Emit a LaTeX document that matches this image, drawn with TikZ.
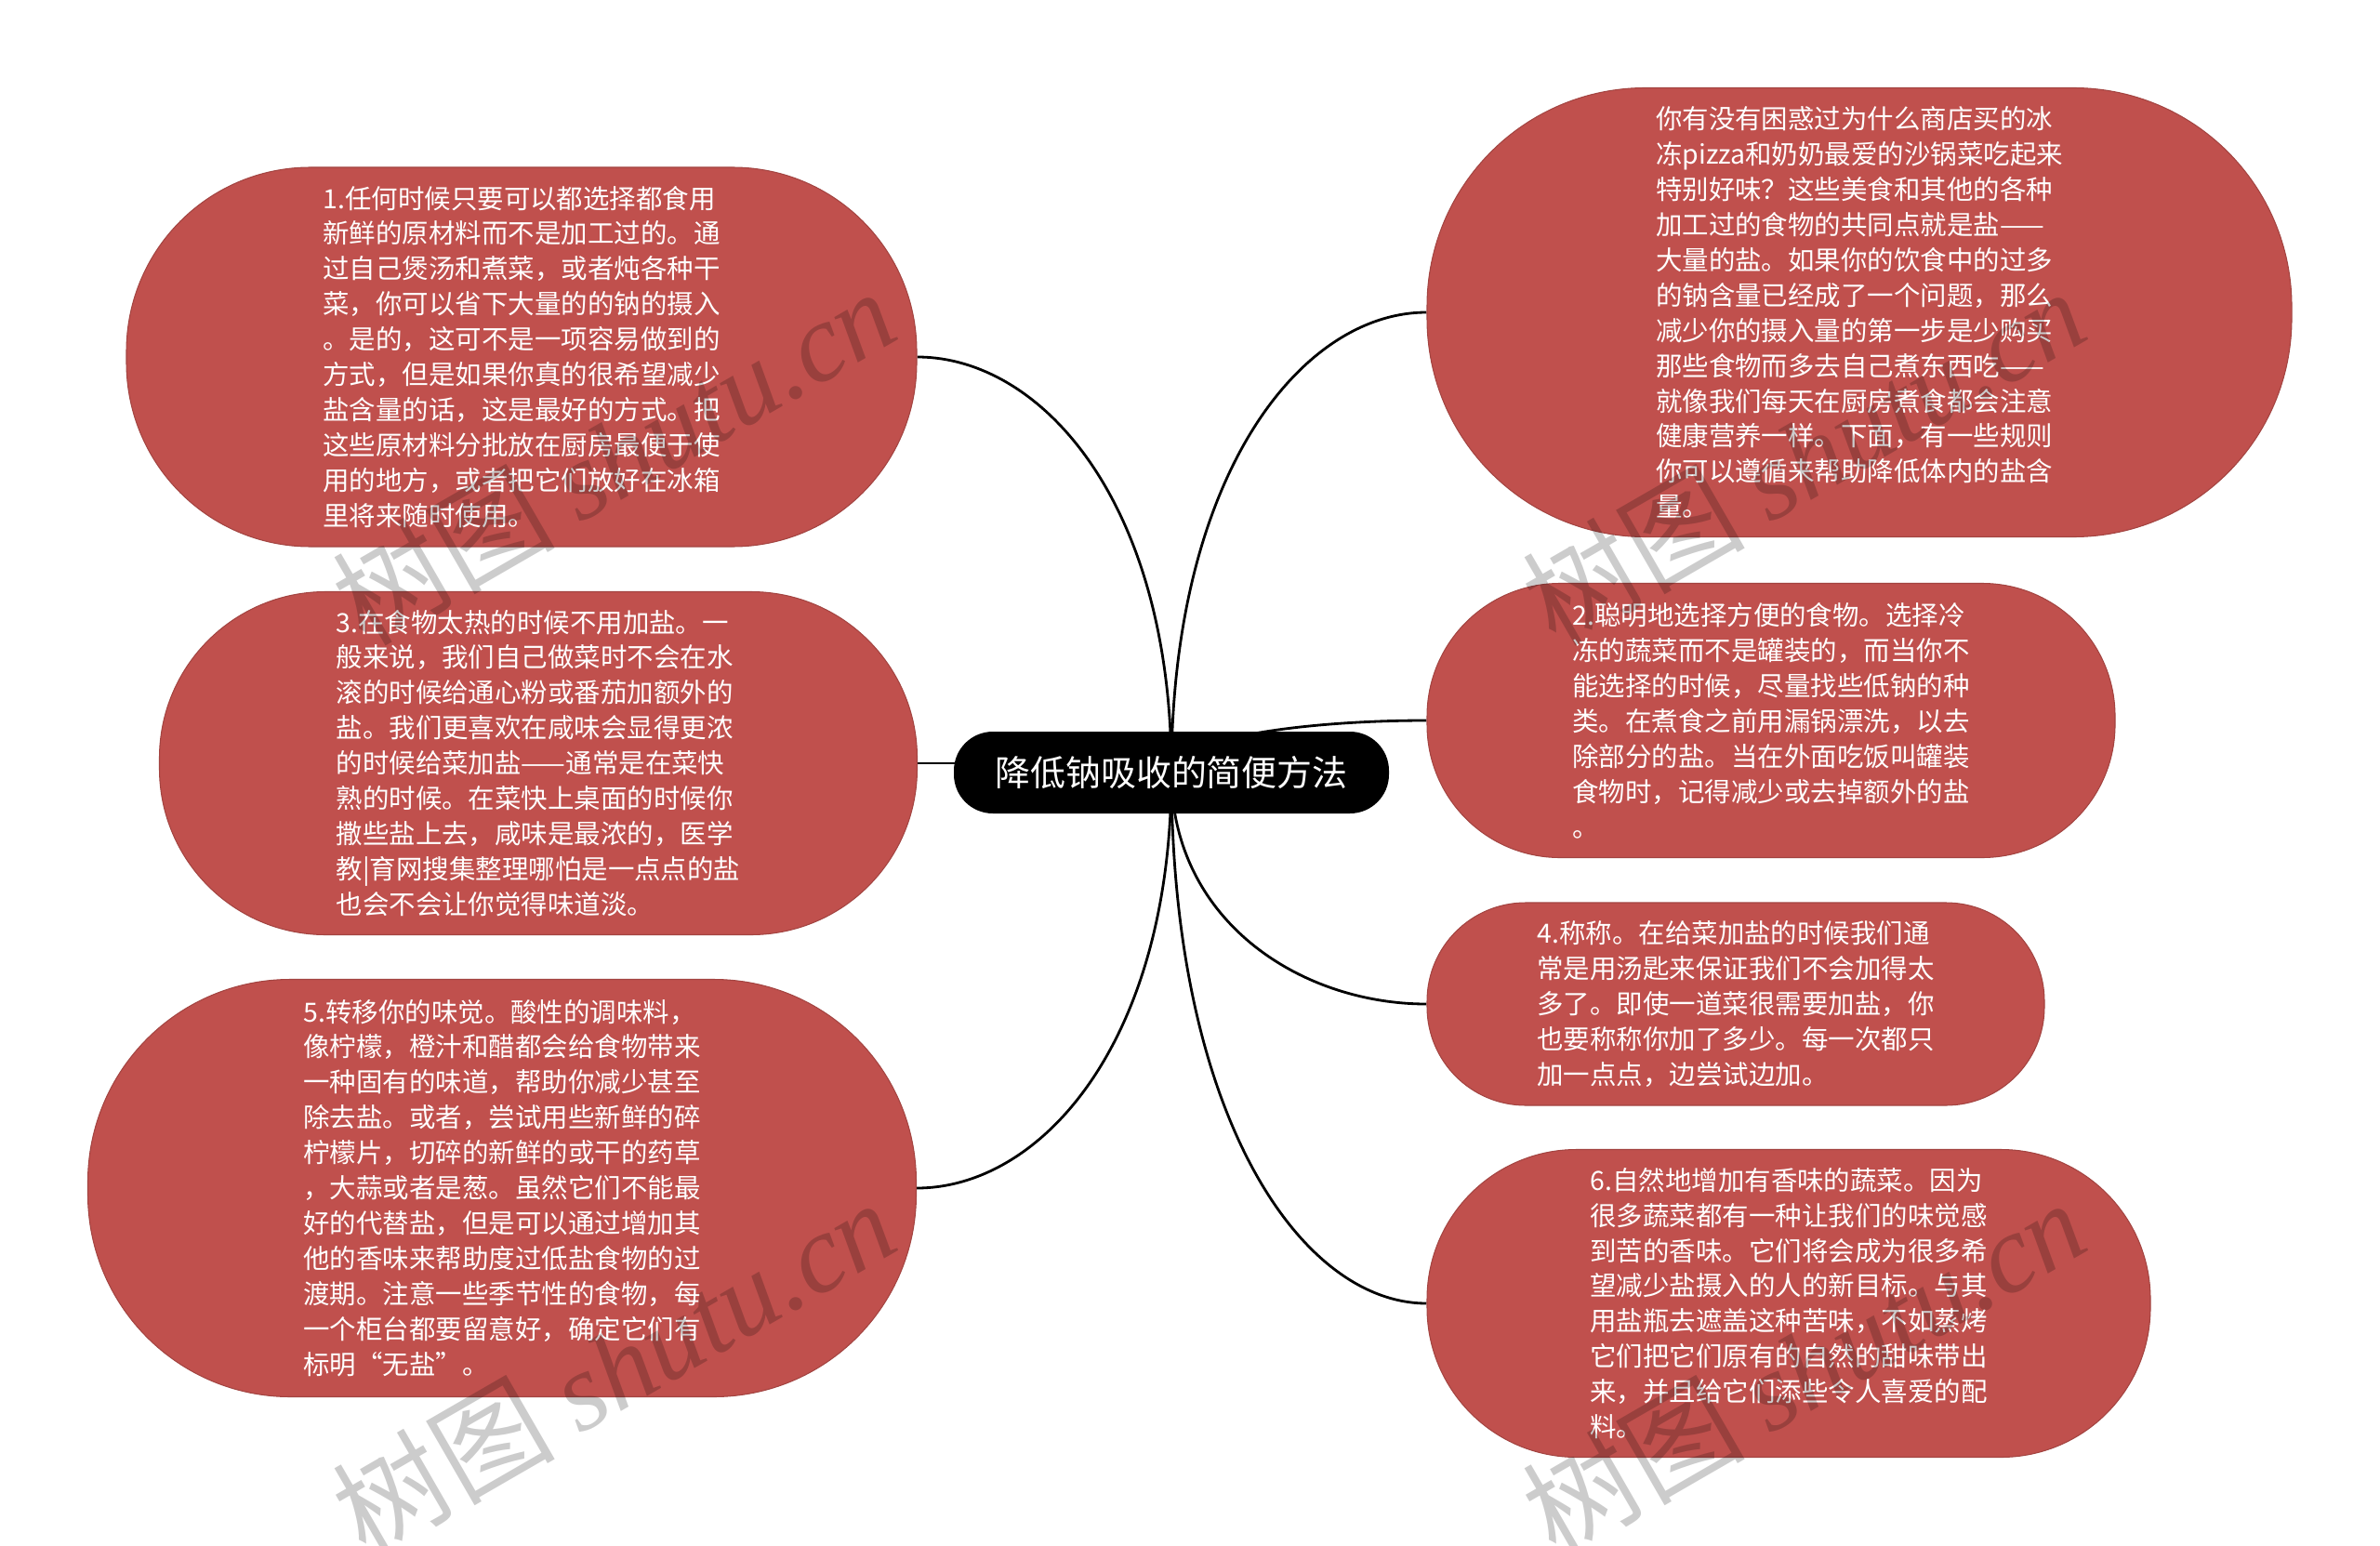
\documentclass[tikz,border=0pt]{standalone}
\usepackage{fontspec}
\setmainfont{Noto Sans CJK SC}
\newfontfamily\wmserif{Liberation Serif}
\usetikzlibrary{backgrounds}
\definecolor{leafred}{RGB}{192,80,77}
\tikzset{
  leaf/.style={fill=leafred, draw=leafred!85!black, line width=0.3pt, text=white,
    align=left, inner sep=0pt, font=\fontsize{8.1}{10.8}\selectfont},
  rootbox/.style={fill=black, text=white, rounded corners=0.42cm,
    minimum width=4.68cm, minimum height=0.88cm, font=\fontsize{10.8}{13}\selectfont},
  link/.style={line width=0.8pt},
  wmark/.style={rotate=30, text=black, opacity=0.2, font=\fontsize{34}{34}\selectfont}
}

\begin{document}
\begin{tikzpicture}
\useasboundingbox (0,0) rectangle (25.6,-16.63); % 2560 x 1663

\node[rootbox] (root) at (12.60,-8.31) {降低钠吸收的简便方法};

% left side
\node[leaf, minimum width=8.50cm, minimum height=4.08cm, rounded corners=1.98cm] (n1) at (5.61,-3.84) {%
1.任何时候只要可以都选择都食用\\
新鲜的原材料而不是加工过的。通\\
过自己煲汤和煮菜，或者炖各种干\\
菜，你可以省下大量的的钠的摄入\\
。是的，这可不是一项容易做到的\\
方式，但是如果你真的很希望减少\\
盐含量的话，这是最好的方式。把\\
这些原材料分批放在厨房最便于使\\
用的地方，或者把它们放好在冰箱\\
里将来随时使用。};
\node[leaf, minimum width=8.15cm, minimum height=3.69cm, rounded corners=1.79cm] (n3) at (5.79,-8.21) {%
3.在食物太热的时候不用加盐。一\\
般来说，我们自己做菜时不会在水\\
滚的时候给通心粉或番茄加额外的\\
盐。我们更喜欢在咸味会显得更浓\\
的时候给菜加盐——通常是在菜快\\
熟的时候。在菜快上桌面的时候你\\
撒些盐上去，咸味是最浓的，医学\\
教|育网搜集整理哪怕是一点点的盐\\
也会不会让你觉得味道淡。};
\node[leaf, minimum width=8.91cm, minimum height=4.49cm, rounded corners=2.18cm] (n5) at (5.40,-12.78) {%
5.转移你的味觉。酸性的调味料，\\
像柠檬，橙汁和醋都会给食物带来\\
一种固有的味道，帮助你减少甚至\\
除去盐。或者，尝试用些新鲜的碎\\
柠檬片，切碎的新鲜的或干的药草\\
，大蒜或者是葱。虽然它们不能最\\
好的代替盐，但是可以通过增加其\\
他的香味来帮助度过低盐食物的过\\
渡期。注意一些季节性的食物，每\\
一个柜台都要留意好，确定它们有\\
标明“无盐”。};

% right side
\node[leaf, minimum width=9.30cm, minimum height=4.83cm, rounded corners=2.35cm] (n0) at (20.00,-3.36) {%
你有没有困惑过为什么商店买的冰\\
冻pizza和奶奶最爱的沙锅菜吃起来\\
特别好味？这些美食和其他的各种\\
加工过的食物的共同点就是盐——\\
大量的盐。如果你的饮食中的过多\\
的钠含量已经成了一个问题，那么\\
减少你的摄入量的第一步是少购买\\
那些食物而多去自己煮东西吃——\\
就像我们每天在厨房煮食都会注意\\
健康营养一样。下面，有一些规则\\
你可以遵循来帮助降低体内的盐含\\
量。};
\node[leaf, minimum width=7.40cm, minimum height=2.95cm, rounded corners=1.43cm] (n2) at (19.05,-7.75) {%
2.聪明地选择方便的食物。选择冷\\
冻的蔬菜而不是罐装的，而当你不\\
能选择的时候，尽量找些低钠的种\\
类。在煮食之前用漏锅漂洗，以去\\
除部分的盐。当在外面吃饭叫罐装\\
食物时，记得减少或去掉额外的盐\\
。};
\node[leaf, minimum width=6.64cm, minimum height=2.18cm, rounded corners=1.06cm] (n4) at (18.67,-10.80) {%
4.称称。在给菜加盐的时候我们通\\
常是用汤匙来保证我们不会加得太\\
多了。即使一道菜很需要加盐，你\\
也要称称你加了多少。每一次都只\\
加一点点，边尝试边加。};
\node[leaf, minimum width=7.78cm, minimum height=3.31cm, rounded corners=1.61cm] (n6) at (19.24,-14.02) {%
6.自然地增加有香味的蔬菜。因为\\
很多蔬菜都有一种让我们的味觉感\\
到苦的香味。它们将会成为很多希\\
望减少盐摄入的人的新目标。与其\\
用盐瓶去遮盖这种苦味，不如蒸烤\\
它们把它们原有的自然的甜味带出\\
来，并且给它们添些令人喜爱的配\\
料。};

% connectors behind the nodes
\begin{scope}[on background layer]
\draw[link] (root.center) .. controls +(0,2.90) and +(1.34,0) .. (n1.east);
\draw[link] (n3.east) -- (n3.east -| root.center);
\draw[link] (root.center) .. controls +(0,-2.90) and +(1.34,0) .. (n5.east);
\draw[link] (root.center) .. controls +(0,3.20) and +(-1.35,0) .. (n0.west);
\draw[link] (root.center) .. controls +(0,0.36) and +(-1.35,0) .. (n2.west);
\draw[link] (root.center) .. controls +(0,-1.60) and +(-1.35,0) .. (n4.west);
\draw[link] (root.center) .. controls +(0,-3.70) and +(-1.35,0) .. (n6.west);
\end{scope}

% watermark
\node[wmark] (wm1) at (6.60,-4.90) {树图 {\wmserif\itshape shutu.cn}};
\node[wmark] (wm2) at (6.60,-14.70) {树图 {\wmserif\itshape shutu.cn}};
\node[wmark] (wm3) at (19.40,-4.90) {树图 {\wmserif\itshape shutu.cn}};
\node[wmark] (wm4) at (19.40,-14.70) {树图 {\wmserif\itshape shutu.cn}};
\end{tikzpicture}
\end{document}
